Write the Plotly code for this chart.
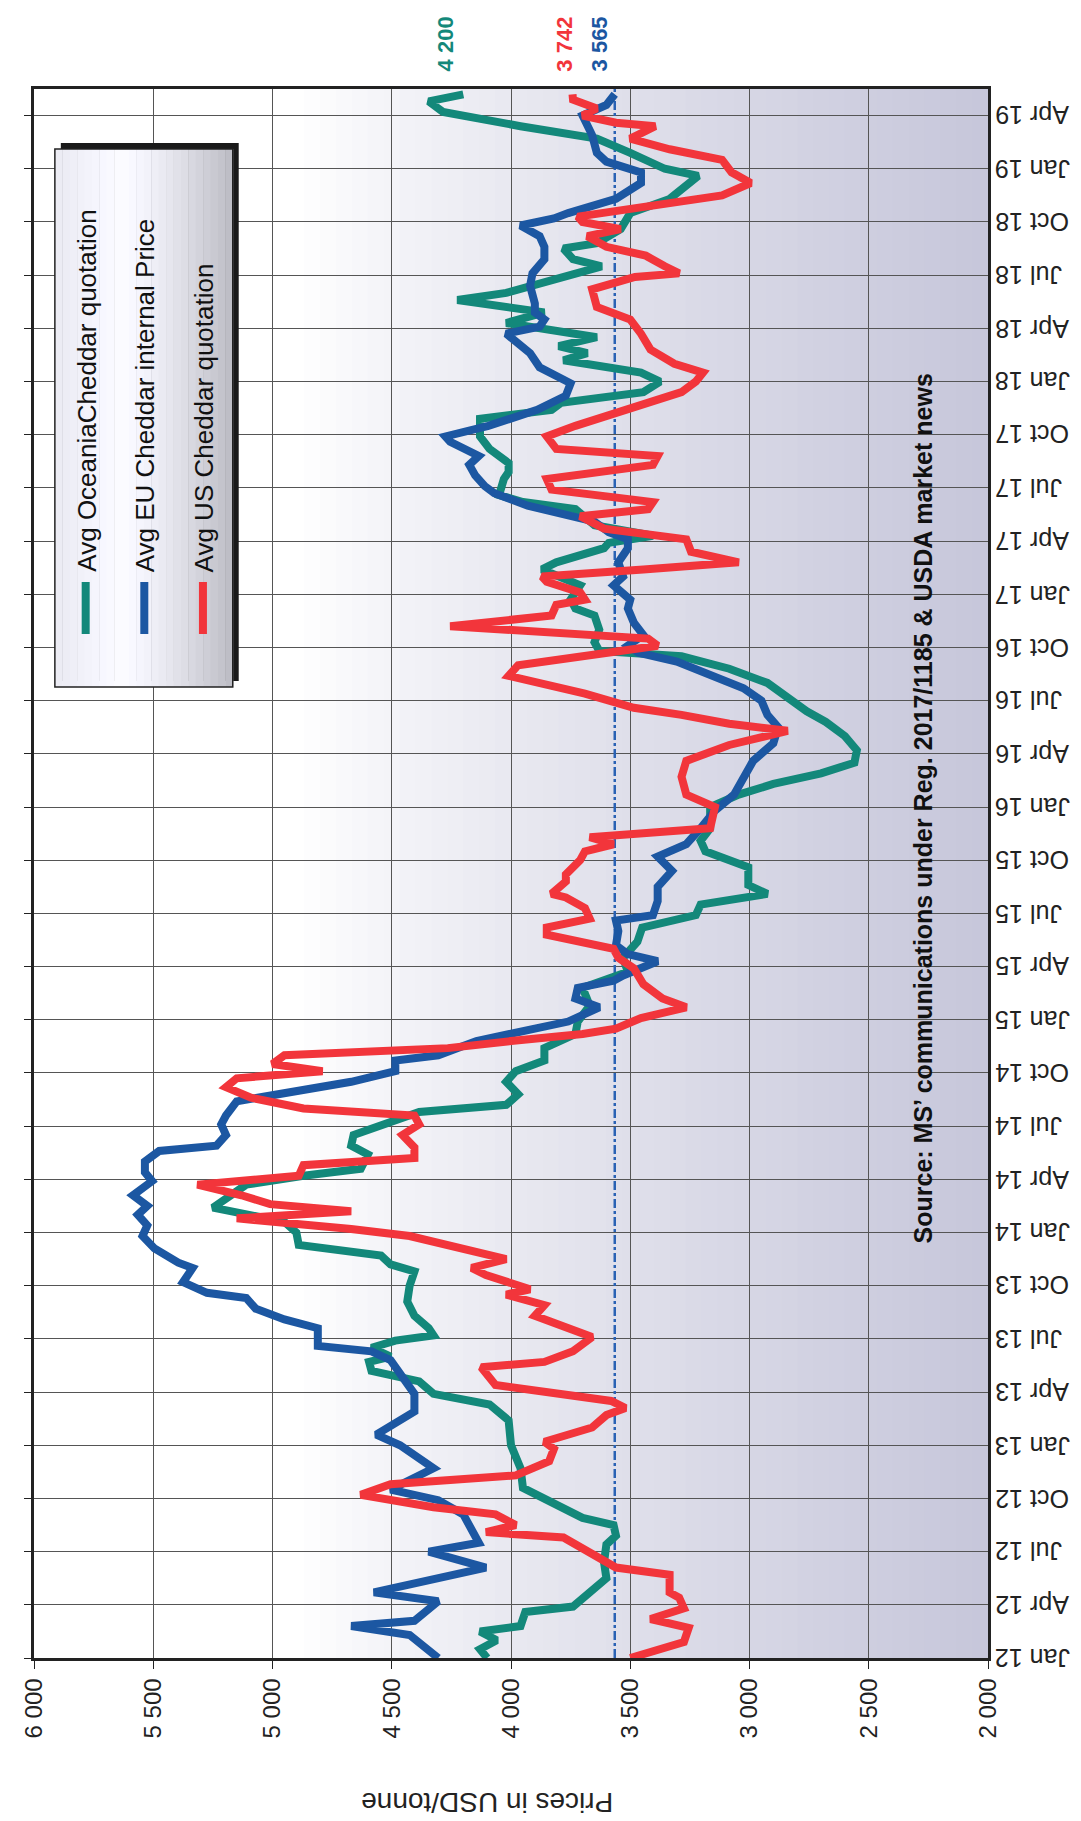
import plotly.graph_objects as go

# months since Jan 2012 (time axis) and prices in USD/tonne
oce_m = [0.0, 0.5, 1.0, 1.5, 1.8, 2.6, 2.9, 3.4, 4.5, 5.4, 6.4, 6.9, 7.5, 7.9, 8.8, 9.6, 10.7, 12.0, 13.4, 14.3,
         14.9, 15.6, 16.2, 16.7, 17.0, 17.5, 17.9, 18.2, 18.6, 19.3, 20.1, 21.0, 21.8, 22.2, 22.7, 23.3, 24.0, 24.6,
         25.4, 25.9, 26.7, 27.2, 27.6, 28.4, 28.9, 29.5, 30.3, 30.8, 31.2, 31.8, 32.5, 33.1, 33.7, 34.4, 35.2, 35.9,
         36.8, 37.8, 38.7, 39.5, 40.4, 41.2, 41.9, 42.5, 43.1, 43.6, 44.6, 45.5, 46.1, 46.8, 48.0, 48.7, 49.3, 49.9,
         50.5, 51.2, 52.0, 52.8, 53.4, 54.0, 54.6, 55.0, 55.8, 56.5, 56.8, 57.3, 58.0, 58.8, 59.2, 59.7, 60.5, 61.0,
         61.4, 61.8, 62.6, 62.9, 63.3, 63.9, 64.8, 65.2, 65.6, 66.5, 66.9, 67.4, 68.2, 68.9, 69.9, 70.4, 70.8, 71.4,
         71.8, 72.0, 72.5, 73.2, 73.6, 74.0, 74.5, 74.9, 75.3, 75.9, 76.6, 77.0, 77.8, 78.5, 78.9, 79.5, 79.8, 80.6,
         81.5, 82.3, 83.6, 84.0, 84.9, 85.7, 86.4, 87.2, 87.8, 88.2]
oce_p = [4100, 4130, 4060, 4130, 3960, 3940, 3740, 3700, 3600, 3610, 3600, 3560, 3570, 3700, 3840, 3950, 3960, 4000, 4010, 4090,
         4325, 4385, 4585, 4595, 4505, 4585, 4485, 4325, 4345, 4405, 4435, 4425, 4405, 4505, 4545, 4890, 4900, 4950,
         5250, 5190, 5110, 4870, 4630, 4600, 4670, 4660, 4490, 4385, 4020, 3970, 4020, 3980, 3860, 3860, 3730, 3720,
         3670, 3700, 3510, 3530, 3470, 3450, 3225, 3205, 2925, 3005, 3005, 3185, 3205, 3165, 3165, 3045, 2900, 2700,
         2560, 2550, 2600, 2680, 2760, 2820, 2880, 2925, 3085, 3285, 3630, 3650, 3630, 3650, 3730, 3750, 3710, 3810,
         3870, 3810, 3610, 3590, 3405, 3650, 3730, 3950, 4050, 4030, 4010, 4010, 4090, 4130, 4130, 3830, 3790, 3445,
         3405, 3375, 3455, 3780, 3680, 3800, 3640, 3820, 4020, 3860, 4225, 4020, 3820, 3620, 3740, 3780, 3640, 3540,
         3500, 3335, 3215, 3355, 3500, 3640, 3960, 4285, 4345, 4200]

eu_m = [0.0, 1.3, 1.8, 2.1, 3.2, 3.7, 5.1, 6.0, 6.5, 6.9, 8.1, 8.9, 9.5, 10.7, 11.5, 12.0, 12.6, 13.9, 14.9, 16.8,
        17.3, 17.6, 18.6, 19.1, 19.7, 20.3, 20.6, 21.2, 22.0, 22.3, 23.1, 23.8, 24.4, 25.0, 25.5, 26.1, 26.9, 27.4,
        28.0, 28.6, 28.9, 29.5, 30.1, 30.6, 31.4, 31.9, 32.5, 33.1, 33.7, 34.0, 34.8, 35.5, 35.9, 36.7, 37.2, 37.8,
        38.2, 38.5, 39.3, 39.7, 40.2, 41.0, 41.6, 41.9, 42.7, 43.5, 44.4, 45.2, 45.9, 46.8, 47.8, 48.7, 49.7, 50.6,
        51.6, 52.5, 53.2, 54.0, 54.7, 55.4, 56.2, 56.7, 57.1, 57.7, 58.4, 59.2, 59.7, 60.5, 61.0, 61.8, 62.6, 63.1,
        63.5, 64.1, 64.4, 65.0, 65.7, 66.1, 66.7, 67.3, 67.8, 68.6, 68.9, 69.5, 70.4, 71.2, 71.9, 72.8, 73.6, 74.2,
        74.7, 75.1, 75.5, 75.9, 76.4, 77.4, 78.1, 78.9, 79.6, 80.2, 80.8, 81.2, 81.5, 82.3, 83.2, 83.8, 84.4, 84.9,
        85.9, 87.0, 87.6, 88.2]
eu_p = [4305, 4425, 4670, 4405, 4305, 4575, 4105, 4345, 4135, 4150, 4200, 4305, 4505, 4325, 4405, 4465, 4565, 4405, 4405, 4505,
        4585, 4810, 4810, 4950, 5070, 5110, 5275, 5375, 5335, 5395, 5495, 5545, 5525, 5565, 5525, 5585, 5505, 5535,
        5535, 5475, 5235, 5195, 5215, 5195, 5150, 4950, 4670, 4485, 4485, 4305, 4145, 3900, 3760, 3630, 3730, 3720,
        3570, 3530, 3385, 3510, 3560, 3550, 3560, 3405, 3385, 3385, 3325, 3385, 3265, 3205, 3145, 3065, 3025, 2985,
        2900, 2880, 2925, 2950, 3025, 3165, 3305, 3465, 3510, 3445, 3485, 3510, 3500, 3570, 3530, 3550, 3510, 3510,
        3590, 3650, 3750, 3930, 4070, 4110, 4150, 4175, 4135, 4255, 4275, 4095, 3890, 3770, 3750, 3880, 3920, 3980,
        4020, 3880, 3860, 3900, 3900, 3920, 3910, 3860, 3860, 3880, 3960, 3820, 3760, 3560, 3455, 3455, 3600, 3640,
        3660, 3700, 3600, 3565]

us_m = [0.0, 0.9, 1.7, 2.2, 2.8, 3.4, 3.7, 4.7, 5.1, 6.2, 6.8, 7.1, 7.5, 8.1, 8.5, 9.2, 9.8, 10.3, 11.1, 11.8,
        12.2, 13.0, 13.7, 14.1, 14.5, 15.4, 16.4, 16.7, 17.3, 18.1, 18.6, 19.3, 19.9, 20.5, 20.8, 21.6, 22.0, 22.5,
        23.8, 24.2, 24.8, 25.2, 25.6, 26.1, 26.7, 27.2, 27.8, 28.2, 28.8, 29.5, 30.1, 30.6, 31.0, 31.6, 32.2, 32.7,
        33.1, 33.5, 34.0, 34.4, 34.8, 35.2, 35.5, 36.1, 36.7, 37.2, 38.0, 38.9, 39.5, 40.0, 40.8, 41.2, 41.7, 42.3,
        42.9, 43.1, 43.8, 44.2, 45.0, 45.5, 45.9, 46.3, 46.8, 48.0, 48.7, 49.7, 50.6, 51.5, 52.3, 52.7, 53.2, 53.6,
        54.4, 55.4, 56.0, 57.1, 57.5, 58.2, 58.8, 59.4, 59.7, 60.1, 60.7, 61.0, 61.4, 61.8, 62.4, 63.1, 63.7, 64.4,
        64.8, 65.2, 65.9, 66.5, 67.3, 67.8, 68.2, 68.9, 69.5, 70.3, 70.8, 71.4, 72.0, 72.5, 73.0, 73.8, 74.7, 75.5,
        76.2, 77.2, 77.9, 78.1, 78.5, 79.1, 79.6, 80.2, 80.6, 81.0, 81.3, 81.9, 82.5, 83.2, 83.8, 84.5, 85.1, 85.7,
        86.4, 86.6, 87.0, 87.4, 87.9, 88.2]
us_p = [3500, 3275, 3255, 3415, 3275, 3295, 3335, 3335, 3560, 3700, 3780, 4105, 3980, 4065, 4325, 4630, 4505, 3980, 3840, 3820,
        3860, 3660, 3600, 3520, 3580, 4065, 4125, 3860, 3740, 3660, 3760, 3900, 3860, 4020, 3920, 4105, 4165, 4020,
        4425, 4670, 5150, 4670, 5010, 5130, 5315, 4890, 4870, 4405, 4405, 4455, 4385, 4405, 4870, 5090, 5195, 5150,
        4790, 5000, 4950, 4265, 4000, 3700, 3560, 3455, 3265, 3365, 3445, 3485, 3550, 3570, 3850, 3850, 3670, 3690,
        3770, 3830, 3770, 3770, 3710, 3690, 3570, 3670, 3165, 3145, 3265, 3285, 3265, 3085, 2840, 3085, 3285, 3485,
        3690, 4010, 3970, 3385, 3425, 4255, 3830, 3810, 3690, 3710, 3850, 3870, 3445, 3045, 3245, 3265, 3610, 3710,
        3425, 3405, 3830, 3850, 3405, 3385, 3810, 3850, 3730, 3550, 3425, 3285, 3225, 3195, 3315, 3415, 3455, 3500,
        3640, 3660, 3480, 3295, 3355, 3435, 3600, 3680, 3540, 3700, 3720, 3435, 3115, 2995, 3075, 3115, 3335, 3500,
        3395, 3560, 3700, 3640, 3740, 3742]

series_names = ["Avg OceaniaCheddar quotation", "Avg EU Cheddar internal Price", "Avg US Cheddar quotation"]
series_colors = ["#13887a", "#1c57a2", "#f2353b"]

price_ticks = [6000, 5500, 5000, 4500, 4000, 3500, 3000, 2500, 2000]
price_labels = ["6 000", "5 500", "5 000", "4 500", "4 000", "3 500", "3 000", "2 500", "2 000"]

month_ticks = [0, 3, 6, 9, 12, 15, 18, 21, 24, 27, 30, 33, 36, 39, 42, 45, 48, 51, 54, 57, 60, 63, 66, 69,
               72, 75, 78, 81, 84, 87]
month_labels = ["Jan 12", "Apr 12", "Jul 12", "Oct 12", "Jan 13", "Apr 13", "Jul 13", "Oct 13",
                "Jan 14", "Apr 14", "Jul 14", "Oct 14", "Jan 15", "Apr 15", "Jul 15", "Oct 15",
                "Jan 16", "Apr 16", "Jul 16", "Oct 16", "Jan 17", "Apr 17", "Jul 17", "Oct 17",
                "Jan 18", "Apr 18", "Jul 18", "Oct 18", "Jan 19", "Apr 19"]

source_text = "Source: MS\u2019 communications under Reg. 2017/1185 & USDA market news"

W, H = 1081, 1821
ML, MR, MT, MB = 20, 101, 81, 171
FONT = "Liberation Sans, Arial, sans-serif"


def px(x):
    return (x - ML) / (W - ML - MR)


def py(y):
    return (H - MB - y) / (H - MT - MB)


fig = go.Figure()

# reference line at the last EU price (dash-dot)
fig.add_trace(go.Scatter(x=[eu_p[-1], eu_p[-1]], y=[0, 88.5], mode="lines",
                         line=dict(color="#2a62b4", width=2.5, dash="dashdot"),
                         hoverinfo="skip", showlegend=False))

for m, p, name, col in zip([oce_m, eu_m, us_m], [oce_p, eu_p, us_p], series_names, series_colors):
    fig.add_trace(go.Scatter(x=p, y=m, mode="lines", name=name,
                             line=dict(color=col, width=8), showlegend=False))

shapes = []
# plot background: white on the left fading to lavender grey on the right
n = 60
for i in range(n):
    d = i / (n - 1)
    t = max(0.0, (d - 0.28) / 0.72) ** 0.8
    r = int(255 - 56 * t)
    g = int(255 - 56 * t)
    b = int(255 - 36 * t)
    shapes.append(dict(type="rect", xref="x domain", yref="y domain", x0=i / n, x1=(i + 1) / n + 0.002,
                       y0=0, y1=1, fillcolor=f"rgb({r},{g},{b})", line=dict(width=0), layer="below"))

# legend box with shadow
bx0, bx1, by0, by1 = 41, 220, 141, 679
shapes.append(dict(type="rect", xref="paper", yref="paper", x0=px(bx0 + 6), x1=px(bx1 + 6),
                   y0=py(by1 - 6), y1=py(by0 - 6), fillcolor="#1a1a1a", line=dict(width=0)))
nb = 24
for i in range(nb):
    d = i / (nb - 1)
    if d < 0.35:
        v = 236 + int(16 * d / 0.35)
    else:
        v = 252 - int(62 * ((d - 0.35) / 0.65) ** 1.3)
    xa = bx0 + (bx1 - bx0) * i / nb
    xb = bx0 + (bx1 - bx0) * (i + 1) / nb + 0.5
    shapes.append(dict(type="rect", xref="paper", yref="paper", x0=px(xa), x1=px(xb),
                       y0=py(by1), y1=py(by0), fillcolor=f"rgb({v},{v},{v + 8 if v < 248 else 255})",
                       line=dict(width=0)))
shapes.append(dict(type="rect", xref="paper", yref="paper", x0=px(bx0), x1=px(bx1),
                   y0=py(by1), y1=py(by0), line=dict(color="#222", width=1.5)))

annotations = []
leg_x = [72, 131, 190]
for lx, name, col in zip(leg_x, series_names, series_colors):
    shapes.append(dict(type="line", xref="paper", yref="paper", x0=px(lx), x1=px(lx),
                       y0=py(626), y1=py(574), line=dict(color=col, width=8)))
    annotations.append(dict(text=name, xref="paper", yref="paper", x=px(lx + 1), y=py(566),
                            xanchor="center", yanchor="bottom", textangle=-90, showarrow=False,
                            font=dict(family=FONT, size=26, color="#111")))

# date labels on the right, upside down
for mt, lab in zip(month_ticks, month_labels):
    annotations.append(dict(text=lab, xref="paper", yref="y", x=px(986), y=mt,
                            xanchor="left", yanchor="middle", textangle=180, showarrow=False,
                            borderpad=0, font=dict(family=FONT, size=25, color="#222")))

# last values above the plot
end_vals = [oce_p[-1], us_p[-1], eu_p[-1]]
end_cols = [series_colors[0], series_colors[2], series_colors[1]]
end_x = [434, 553, 589]
for v, col, ex in zip(end_vals, end_cols, end_x):
    annotations.append(dict(text=f"{v // 1000} {v % 1000:03d}", xref="paper", yref="paper",
                            x=px(ex), y=py(36), xanchor="center", yanchor="middle", textangle=-90,
                            showarrow=False, font=dict(family=FONT, size=22, color=col, weight="bold")))

annotations.append(dict(text=source_text, xref="paper", yref="paper", x=px(915), y=py(800),
                        xanchor="center", yanchor="middle", textangle=-90, showarrow=False,
                        font=dict(family=FONT, size=25, color="#111", weight="bold")))
annotations.append(dict(text="Prices in USD/tonne", xref="paper", yref="paper", x=px(476), y=py(1795),
                        xanchor="center", yanchor="middle", textangle=180, showarrow=False,
                        font=dict(family=FONT, size=28, color="#222")))

fig.update_layout(
    width=W, height=H,
    margin=dict(l=ML, r=MR, t=MT, b=MB, pad=0),
    paper_bgcolor="white", plot_bgcolor="white",
    font=dict(family=FONT, color="#222"),
    shapes=shapes, annotations=annotations,
    xaxis=dict(range=[6000, 2000], tickvals=price_ticks, ticktext=price_labels, tickangle=-90,
               ticks="outside", ticklen=8, tickcolor="#222", tickfont=dict(size=24, color="#222"),
               showgrid=True, gridcolor="#555", gridwidth=1, zeroline=False,
               showline=True, linecolor="#222", linewidth=2.5, mirror=True),
    yaxis=dict(range=[0, 88.5], tickvals=month_ticks, showticklabels=False,
               ticks="outside", ticklen=7, tickcolor="#222",
               showgrid=True, gridcolor="#555", gridwidth=1, zeroline=False,
               showline=True, linecolor="#222", linewidth=2.5, mirror=True),
)

fig.write_html("out.html")
